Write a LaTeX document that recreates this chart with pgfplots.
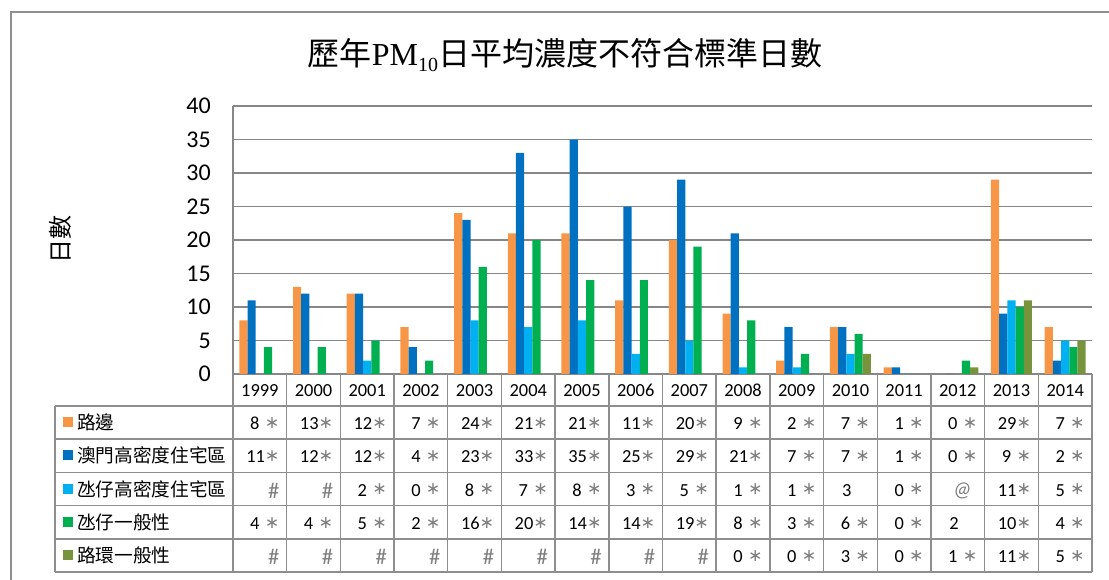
\documentclass[border=0pt]{standalone}
\usepackage{fontspec}
\usepackage{pgfplots}
\pgfplotsset{compat=1.18}
\setmainfont{Carlito}
\newfontfamily\cjk{Noto Sans CJK TC}
\newfontfamily\tnr{Liberation Serif}
\newfontfamily\djv{DejaVu Sans}
\definecolor{cOr}{HTML}{F79646}
\definecolor{cBl}{HTML}{0070C0}
\definecolor{cLb}{HTML}{00B0F0}
\definecolor{cGr}{HTML}{00B050}
\definecolor{cOl}{HTML}{77933C}
\definecolor{gridc}{HTML}{878787}
\definecolor{linec}{HTML}{8E8E8E}
\definecolor{starc}{HTML}{7F7F7F}
\newcommand{\sta}{\textcolor{starc}{\raisebox{0.8pt}{\djv\fontsize{13}{13}\selectfont ∗}}}
\newcommand{\st}[1]{\ifnum#1<10 #1\hspace{4pt}\else#1\fi\sta}
\newcommand{\na}{\textcolor{starc}{\raisebox{-1.5pt}{\fontsize{17}{17}\selectfont\#}}}
\newcommand{\at}{\textcolor{starc}{\fontsize{16}{16}\selectfont\textit{@}}\kern4pt\null}
\newcommand{\pl}[1]{#1\kern14pt\null}
\begin{document}
\begin{tikzpicture}
\useasboundingbox (0,0) rectangle (831.75pt,-435pt);
\begin{axis}[at={(174.75pt,-280.5pt)}, anchor=south west, scale only axis,
  width=644.25pt, height=201pt,
  xmin=-0.5, xmax=15.5, ymin=0, ymax=40,
  ybar=0pt, bar width=6.15pt,
  axis x line*=bottom, axis y line*=left,
  axis line style={draw=gridc, line width=1pt},
  ymajorgrids, grid style={draw=gridc, line width=0.9pt},
  ytick={0,5,...,40}, xtick=\empty, major tick length=0pt,
  yticklabel style={font=\fontsize{18}{20}\selectfont, anchor=east, inner sep=0pt, xshift=-16.5pt},
  /pgf/number format/assume math mode=true, clip=false]
\addplot[fill=cOr, draw=none] coordinates {(0,8)(1,13)(2,12)(3,7)(4,24)(5,21)(6,21)(7,11)(8,20)(9,9)(10,2)(11,7)(12,1)(13,0)(14,29)(15,7)};
\addplot[fill=cBl, draw=none] coordinates {(0,11)(1,12)(2,12)(3,4)(4,23)(5,33)(6,35)(7,25)(8,29)(9,21)(10,7)(11,7)(12,1)(13,0)(14,9)(15,2)};
\addplot[fill=cLb, draw=none] coordinates {(2,2)(3,0)(4,8)(5,7)(6,8)(7,3)(8,5)(9,1)(10,1)(11,3)(12,0)(14,11)(15,5)};
\addplot[fill=cGr, draw=none] coordinates {(0,4)(1,4)(2,5)(3,2)(4,16)(5,20)(6,14)(7,14)(8,19)(9,8)(10,3)(11,6)(12,0)(13,2)(14,10)(15,4)};
\addplot[fill=cOl, draw=none] coordinates {(9,0)(10,0)(11,3)(12,0)(13,1)(14,11)(15,5)};
\end{axis}
\begin{scope}[x=0.75pt, y=-0.75pt]
% outer frame
\draw[linec, line width=1.5pt] (11,620) -- (11,12) -- (1140,12);
% title
\node[font=\fontsize{24}{28}\selectfont, inner sep=0pt] at (565,55)
  {{\cjk 歷年}{\tnr PM\raisebox{-4.5pt}{\fontsize{15}{15}\selectfont 10}}{\cjk 日平均濃度不符合標準日數}};
% y label
\node[rotate=90, font=\cjk\fontsize{18}{20}\selectfont, inner sep=0pt] at (60,240) {日數};
% table grid
\begin{scope}[draw=linec, line width=1.1pt]
\foreach \k in {0,...,16} \draw ({233+\k*53.6875},374) -- ({233+\k*53.6875},572);
\foreach \yy in {406,439.2,472.4,505.6,538.8,572} \draw (55,\yy) -- (1092,\yy);
\draw (55,406) -- (55,572);
\end{scope}
% years
\foreach \yr [count=\i from 0] in {1999,...,2014}
  \node[anchor=base, font=\fontsize{13.8}{15}\selectfont, inner sep=0pt] at ({233+(\i+0.5)*53.6875},397) {\yr};
% row labels
\foreach \c/\lab [count=\r from 0] in {cOr/路邊, cBl/澳門高密度住宅區, cLb/氹仔高密度住宅區, cGr/氹仔一般性, cOl/路環一般性} {
  \fill[\c] (63,{422.6+\r*33.2-5.5}) rectangle (73,{422.6+\r*33.2+4.5});
  \node[anchor=west, font=\cjk\fontsize{14}{16}\selectfont, inner sep=0pt] at (77,{422.6+\r*33.2}) {\lab};
}
% cells
\foreach \v [count=\i from 1] in {\st{8},\st{13},\st{12},\st{7},\st{24},\st{21},\st{21},\st{11},\st{20},\st{9},\st{2},\st{7},\st{1},\st{0},\st{29},\st{7}}
  \node[anchor=base east, font=\fontsize{13.8}{15}\selectfont, inner sep=0pt] at ({233+\i*53.6875-7},429.6) {\v};
\foreach \v [count=\i from 1] in {\st{11},\st{12},\st{12},\st{4},\st{23},\st{33},\st{35},\st{25},\st{29},\st{21},\st{7},\st{7},\st{1},\st{0},\st{9},\st{2}}
  \node[anchor=base east, font=\fontsize{13.8}{15}\selectfont, inner sep=0pt] at ({233+\i*53.6875-7},462.8) {\v};
\foreach \v [count=\i from 1] in {\na,\na,\st{2},\st{0},\st{8},\st{7},\st{8},\st{3},\st{5},\st{1},\st{1},\pl{3},\st{0},\at,\st{11},\st{5}}
  \node[anchor=base east, font=\fontsize{13.8}{15}\selectfont, inner sep=0pt] at ({233+\i*53.6875-7},496) {\v};
\foreach \v [count=\i from 1] in {\st{4},\st{4},\st{5},\st{2},\st{16},\st{20},\st{14},\st{14},\st{19},\st{8},\st{3},\st{6},\st{0},\pl{2},\st{10},\st{4}}
  \node[anchor=base east, font=\fontsize{13.8}{15}\selectfont, inner sep=0pt] at ({233+\i*53.6875-7},529.2) {\v};
\foreach \v [count=\i from 1] in {\na,\na,\na,\na,\na,\na,\na,\na,\na,\st{0},\st{0},\st{3},\st{0},\st{1},\st{11},\st{5}}
  \node[anchor=base east, font=\fontsize{13.8}{15}\selectfont, inner sep=0pt] at ({233+\i*53.6875-7},562.4) {\v};
\end{scope}
\end{tikzpicture}
\end{document}
